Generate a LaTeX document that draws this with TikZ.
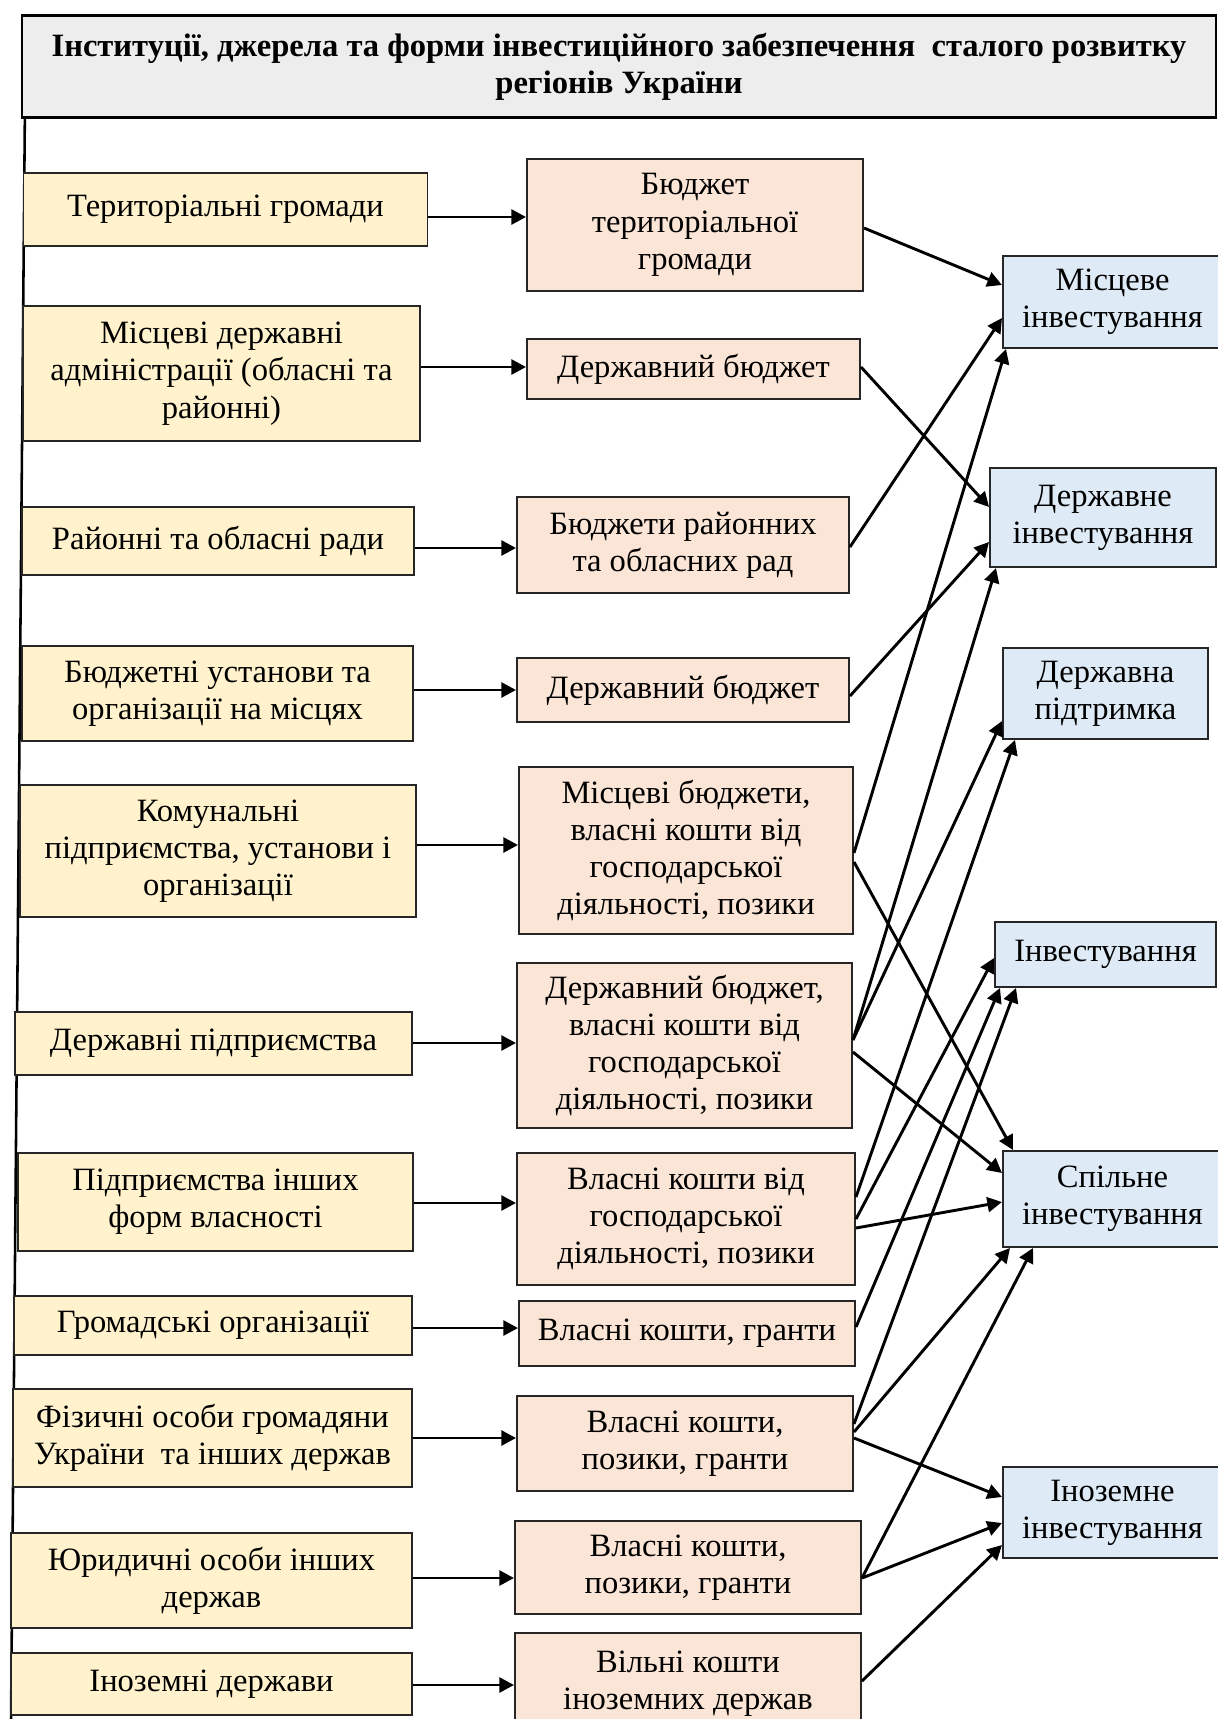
\documentclass[tikz,border=0pt]{standalone}
\usepackage{fontspec}
\setmainfont{Liberation Serif}
\usepackage{tikz}
\usetikzlibrary{calc, arrows.meta, positioning}
\definecolor{srcfill}{RGB}{255,242,204}
\definecolor{fundfill}{RGB}{251,229,214}
\definecolor{invfill}{RGB}{222,235,247}
\definecolor{headfill}{RGB}{237,237,237}
\tikzset{>={Triangle[length=6.3pt,width=6.4pt]}}
\tikzset{
  wh/.style 2 args={minimum width=#1*0.43pt, minimum height=#2*0.43pt},
  cell/.style={draw=black!85, line width=0.85pt, align=center, inner sep=2pt,
    font=\fontsize{14pt}{16pt}\selectfont},
  src/.style={cell, fill=srcfill},
  fund/.style={cell, fill=fundfill},
  inv/.style={cell, fill=invfill},
  head/.style={cell, draw=black, line width=1pt, fill=headfill,
    font=\fontsize{14pt}{16pt}\selectfont\bfseries},
  arr/.style={->, line width=1.25pt}
}

\begin{document}
\begin{tikzpicture}[x=0.43pt, y=-0.43pt]
\useasboundingbox (0,0) rectangle (1218,1719);

% title
\node[head, wh={1194}{102}] (head) at (619,66.5)
  {Інституції, джерела та форми інвестиційного забезпечення \ сталого розвитку\\ регіонів України};
\coordinate (lb) at (11,1722);
\draw[line width=1.1pt] ($(head.south west)+(4,0)$) -- (lb);

% institutions
\node[src, wh={404}{73}]  (t1)  at (225.5,209.5) {Територіальні громади};
\node[src, wh={397}{135}] (t2)  at (221.5,373.5) {Місцеві державні\\ адміністрації (обласні та\\ районні)};
\node[src, wh={392}{68}]  (t3)  at (218,541)     {Районні та обласні ради};
\node[src, wh={391}{95}]  (t4)  at (217.5,693.5) {Бюджетні установи та\\ організації на місцях};
\node[src, wh={396}{132}] (t5)  at (218,851)     {Комунальні\\ підприємства, установи і\\ організації};
\node[src, wh={397}{63}]  (t6)  at (213.5,1043.5) {Державні підприємства};
\node[src, wh={395}{98}]  (t7)  at (215.5,1202)  {Підприємства інших\\ форм власності};
\node[src, wh={398}{59}]  (t8)  at (213,1325.5)  {Громадські організації};
\node[src, wh={399}{98}]  (t9)  at (212.5,1438)  {Фізичні особи громадяни\\ України \ та інших держав};
\node[src, wh={401}{95}]  (t10) at (211.5,1580.5) {Юридичні особи інших\\ держав};
\node[src, wh={401}{62}]  (t11) at (211.5,1684)  {Іноземні держави};

% sources of funds
\node[fund, wh={336}{132}] (b1)  at (695,225)    {Бюджет\\ територіальної\\ громади};
\node[fund, wh={333}{60}]  (b2)  at (693.5,369)  {Державний бюджет};
\node[fund, wh={332}{96}]  (b3)  at (683,545)    {Бюджети районних\\ та обласних рад};
\node[fund, wh={332}{64}]  (b4)  at (683,690)    {Державний бюджет};
\node[fund, wh={334}{167}] (b5)  at (686,850.5)  {Місцеві бюджети,\\ власні кошти від\\ господарської\\ діяльності, позики};
\node[fund, wh={335}{165}] (b6)  at (684.5,1045.5) {Державний бюджет,\\ власні кошти від\\ господарської\\ діяльності, позики};
\node[fund, wh={338}{132}] (b7)  at (686,1219)   {Власні кошти від\\ господарської\\ діяльності, позики};
\node[fund, wh={336}{65}]  (b8)  at (687,1333.5) {Власні кошти, гранти};
\node[fund, wh={336}{95}]  (b9)  at (685,1443.5) {Власні кошти,\\ позики, гранти};
\node[fund, wh={346}{93}]  (b10) at (688,1567.5) {Власні кошти,\\ позики, гранти};
\node[fund, wh={346}{102}] (b11) at (688,1684)   {Вільні кошти\\ іноземних держав};

% forms of investing
\node[inv, wh={219}{92}] (loc)   at (1112.5,302)   {Місцеве\\ інвестування};
\node[inv, wh={226}{99}] (state) at (1103,517.5)   {Державне\\ інвестування};
\node[inv, wh={205}{91}] (supp)  at (1105.5,693.5) {Державна\\ підтримка};
\node[inv, wh={221}{65}] (invst) at (1105.5,954.5) {Інвестування};
\node[inv, wh={219}{96}] (joint) at (1112.5,1199)  {Спільне\\ інвестування};
\node[inv, wh={219}{91}] (frgn)  at (1112.5,1512.5) {Іноземне\\ інвестування};

\path[arr]
(t1.east |- 0,217)   edge (b1.west |- 0,217)
(t2.east |- 0,367)   edge (b2.west |- 0,367)
(t3.east |- 0,548)   edge (b3.west |- 0,548)
(t4.east |- 0,690)   edge (b4.west |- 0,690)
(t5.east |- 0,845)   edge (b5.west |- 0,845)
(t6.east |- 0,1043)  edge (b6.west |- 0,1043)
(t7.east |- 0,1203)  edge (b7.west |- 0,1203)
(t8.east |- 0,1328)  edge (b8.west |- 0,1328)
(t9.east |- 0,1438)  edge (b9.west |- 0,1438)
(t10.east |- 0,1578) edge (b10.west |- 0,1578)
(t11.east |- 0,1685) edge (b11.west |- 0,1685)
;
\path[arr]
(b1.east |- 0,228)   edge (loc.west |- 0,285)
(b2.east |- 0,367)   edge (state.west |- 0,507)
(b3.east |- 0,547)   edge (loc.west |- 0,318)
(b4.east |- 0,696)   edge (state.west |- 0,542)
(b5.east |- 0,853)   edge (loc.south -| 1006,0)
(b5.east |- 0,862)   edge (joint.north -| 1013,0)
(b6.east |- 0,1040)  edge (state.south -| 996,0)
(b6.east |- 0,1040)  edge (supp.west |- 0,721)
(b6.east |- 0,1052)  edge (joint.west |- 0,1173)
(b7.east |- 0,1197)  edge (supp.south -| 1015,0)
(b7.east |- 0,1219)  edge (invst.west |- 0,958)
(b7.east |- 0,1228)  edge (joint.west |- 0,1202)
(b8.east |- 0,1327)  edge (invst.south -| 1000,0)
(b9.east |- 0,1424)  edge (invst.south -| 1016,0)
(b9.east |- 0,1432)  edge (joint.south -| 1010,0)
(b9.east |- 0,1438)  edge (frgn.west |- 0,1497)
(b10.east |- 0,1578) edge (joint.south -| 1033,0)
(b10.east |- 0,1578) edge (frgn.west |- 0,1523)
(b11.east |- 0,1681) edge (frgn.west |- 0,1545)
;
\end{tikzpicture}
\end{document}
